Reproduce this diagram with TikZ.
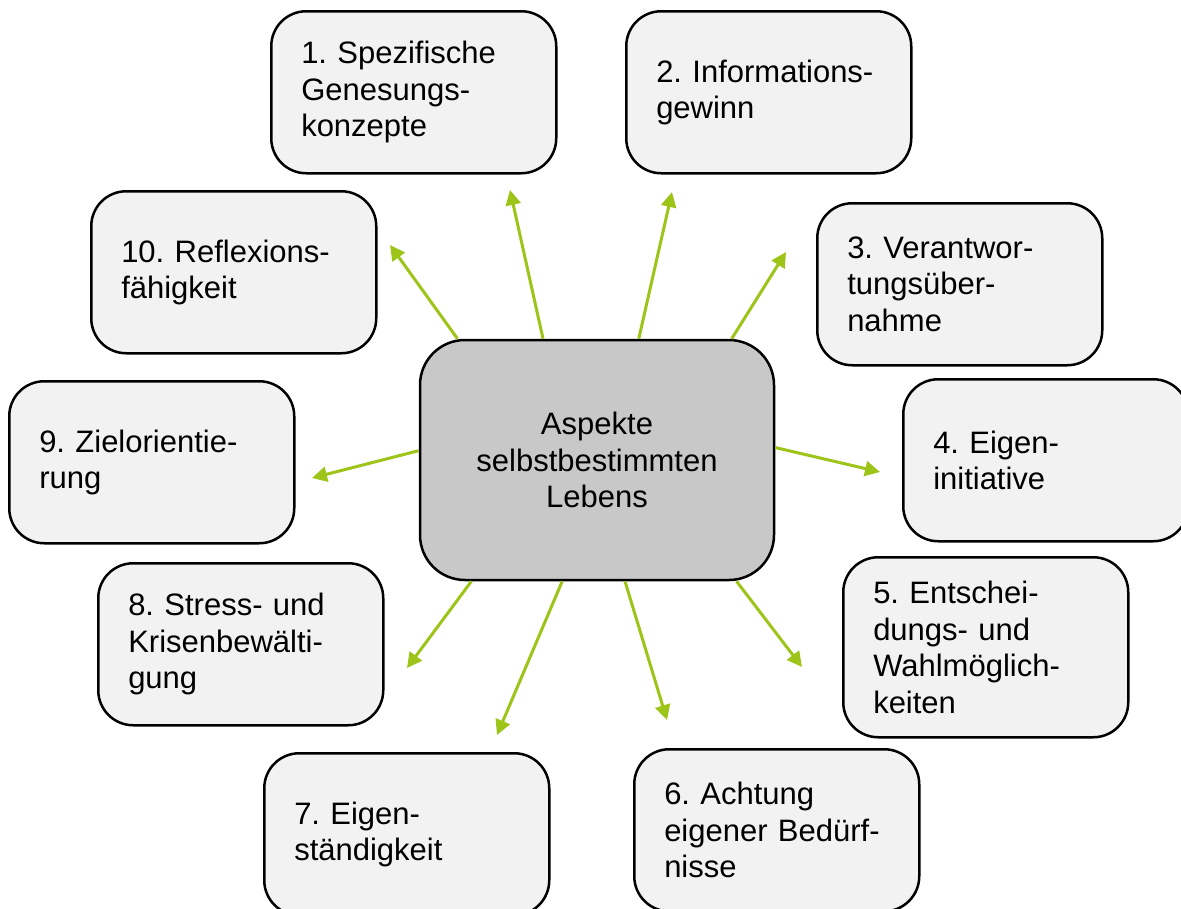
\documentclass[tikz,border=0pt]{standalone}
\usepackage{fontspec}
\setmainfont{Liberation Sans}
\usepackage{xcolor}
\usepackage{tikz}
\usetikzlibrary{shapes.geometric, arrows, positioning}
\definecolor{mygreen}{RGB}{157, 196, 24}
\definecolor{mylight}{RGB}{242, 242, 242}
\definecolor{mygray}{RGB}{200, 200, 200}
\usetikzlibrary{arrows.meta}
\frenchspacing
\tikzstyle{aspect} = [rectangle, rounded corners=35pt, anchor=north west, minimum height=162pt, text width=225pt, inner xsep=30pt, align=left, draw=black, line width=2.5pt, fill=mylight, font=\fontsize{31}{36.5}\selectfont]
\tikzstyle{arrow} = [line width=3pt, mygreen, -{Triangle[length=15pt,width=15pt]}]

\begin{document}
\begin{tikzpicture}[x=1pt,y=-1pt]
\useasboundingbox (0,0) rectangle (1181,908);

\node[
rectangle,
rounded corners=45pt,
draw=black,
fill=mygray,
line width=2.5pt,
minimum width=354pt,
minimum height=240pt,
align=center,
font=\fontsize{31}{36.5}\selectfont
] (aspects) at (597,460) {Aspekte\\selbstbestimmten\\Lebens};

\node[aspect] (spez) at (270,10) {1. Spezifische\\Genesungs-\\konzepte};
\node[aspect] (info) at (625,10) {2. Informations-\\gewinn};
\node[aspect] (verant) at (816,202) {3. Verantwor-\\tungsüber-\\nahme};
\node[aspect] (initiative) at (902,378) {4. Eigen-\\initiative};
\node[aspect, minimum height=180pt] (wahl) at (842,556) {5. Entschei-\\dungs- und\\Wahlmöglich-\\keiten};
\node[aspect] (achtung) at (633,748) {6. Achtung\\eigener Bedürf-\\nisse};
\node[aspect] (staendig) at (263,752) {7. Eigen-\\ständigkeit};
\node[aspect] (stress) at (97,562) {8. Stress- und\\Krisenbewälti-\\gung};
\node[aspect] (ziel) at (8,380) {9. Zielorientie-\\rung};
\node[aspect] (reflex) at (90,190) {10. Reflexions-\\fähigkeit};

% arrow tips
\coordinate (t1) at (510,190);
\coordinate (t2) at (672,192);
\coordinate (t3) at (786,252);
\coordinate (t4) at (880,472);
\coordinate (t5) at (802,667);
\coordinate (t6) at (667,720);
\coordinate (t7) at (497,735);
\coordinate (t8) at (407,668);
\coordinate (t9) at (312,478);
\coordinate (t10) at (390,245);

\draw[arrow] (aspects.114.7) -- (t1);
\draw[arrow] (aspects.71.8) -- (t2);
\draw[arrow] (aspects.42.9) -- (t3);
\draw[arrow] (aspects.4.8) -- (t4);
\draw[arrow] (aspects.-41.2) -- (t5);
\draw[arrow] (aspects.-77.2) -- (t6);
\draw[arrow] (aspects.-106.3) -- (t7);
\draw[arrow] (aspects.-136.1) -- (t8);
\draw[arrow] (aspects.177.4) -- (t9);
\draw[arrow] (aspects.139.2) -- (t10);
\end{tikzpicture}
\end{document}
